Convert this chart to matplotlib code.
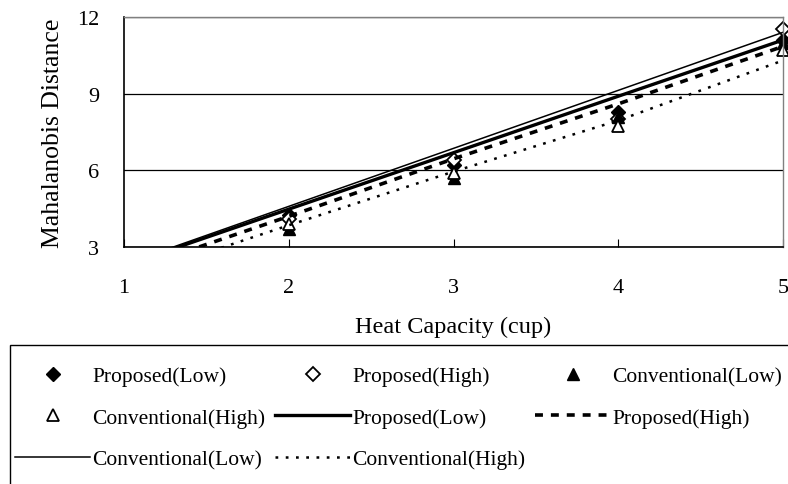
import matplotlib
matplotlib.use("Agg")
import matplotlib.pyplot as plt
from matplotlib.patches import Rectangle

plt.rcParams['font.family'] = ['Liberation Serif', 'DejaVu Serif']

# heat capacity (cup)
x = [2, 3, 4, 5]
# measured Mahalanobis distances
prop_low = [4.25, 6.2, 8.3, 11.1]
prop_high = [4.1, 6.4, 8.0, 11.55]
conv_low = [3.7, 5.7, 8.1, 11.0]
conv_high = [3.9, 5.9, 7.75, 10.7]

# trend lines
x_line = [1, 2, 3, 4, 5]
trend_prop_low = [2.27, 4.48, 6.69, 8.9, 11.1]
trend_prop_high = [2.0, 4.2, 6.45, 8.6, 10.85]
trend_conv_low = [2.32, 4.59, 6.86, 9.13, 11.4]
trend_conv_high = [1.7, 3.85, 5.95, 7.95, 10.3]

labels = ["Proposed(Low)", "Proposed(High)", "Conventional(Low)", "Conventional(High)"]

W, H = 788, 485
fig = plt.figure(figsize=(W / 100, H / 100), dpi=100)
ax = fig.add_axes([124 / W, 1 - 248 / H, (783 - 124) / W, (248 - 18) / H])

ms = 7
h = []
h += ax.plot(x, prop_low, ls='none', marker='D', ms=ms, color='black', clip_on=False)
h += ax.plot(x, prop_high, ls='none', marker='D', ms=ms, mfc='white', mec='black', mew=1.3, clip_on=False)
h += ax.plot(x, conv_low, ls='none', marker='^', ms=ms + 1, color='black', clip_on=False)
h += ax.plot(x, conv_high, ls='none', marker='^', ms=ms + 1, mfc='white', mec='black', mew=1.3, clip_on=False)
h += ax.plot(x_line, trend_prop_low, color='black', lw=2.4)
h += ax.plot(x_line, trend_prop_high, color='black', lw=2.6, ls=(0, (2.2, 2.2)))
h += ax.plot(x_line, trend_conv_low, color='black', lw=1.1)
h += ax.plot(x_line, trend_conv_high, color='black', lw=1.8, ls=(0, (1.1, 3.0)))

ax.set_xlim(1, 5)
ax.set_ylim(3, 12)
ax.set_xticks([1, 2, 3, 4, 5])
ax.set_yticks([3, 6, 9, 12])
ax.yaxis.grid(True, color='black', lw=0.9)
ax.set_axisbelow(True)
ax.tick_params(axis='x', direction='in', length=6, width=0.8, pad=22, labelsize=16)
ax.tick_params(axis='y', length=0, pad=18, labelsize=16)
for s in ['top', 'right']:
    ax.spines[s].set_color('#808080')
    ax.spines[s].set_linewidth(1.0)
for s in ['left', 'bottom']:
    ax.spines[s].set_color('black')
    ax.spines[s].set_linewidth(1.2)

ax.set_xlabel("Heat Capacity (cup)", fontsize=17.5, labelpad=14)
ax.set_ylabel("Mahalanobis Distance", fontsize=18.5, labelpad=9)

# legend box, running off the right and bottom edges like the original
fig.add_artist(Rectangle((10 / W, -0.1), 1.0, 0.1 + 1 - 346 / H, transform=fig.transFigure,
                         fill=False, edgecolor='black', lw=1.0))

# legend filled row by row, one legend per column
all_labels = labels + labels
columns = [[0, 3, 6], [1, 4, 7], [2, 5]]
col_x = [15, 275, 535]
for idx, cx in zip(columns, col_x):
    fig.legend([h[i] for i in idx], [all_labels[i] for i in idx],
               loc='upper left', bbox_to_anchor=(cx / W, 1 - 367 / H),
               fontsize=15.5, frameon=False, borderaxespad=0, borderpad=0,
               labelspacing=1.0, handlelength=3.5, handletextpad=0.1)

fig.savefig("out.png", dpi=100)
